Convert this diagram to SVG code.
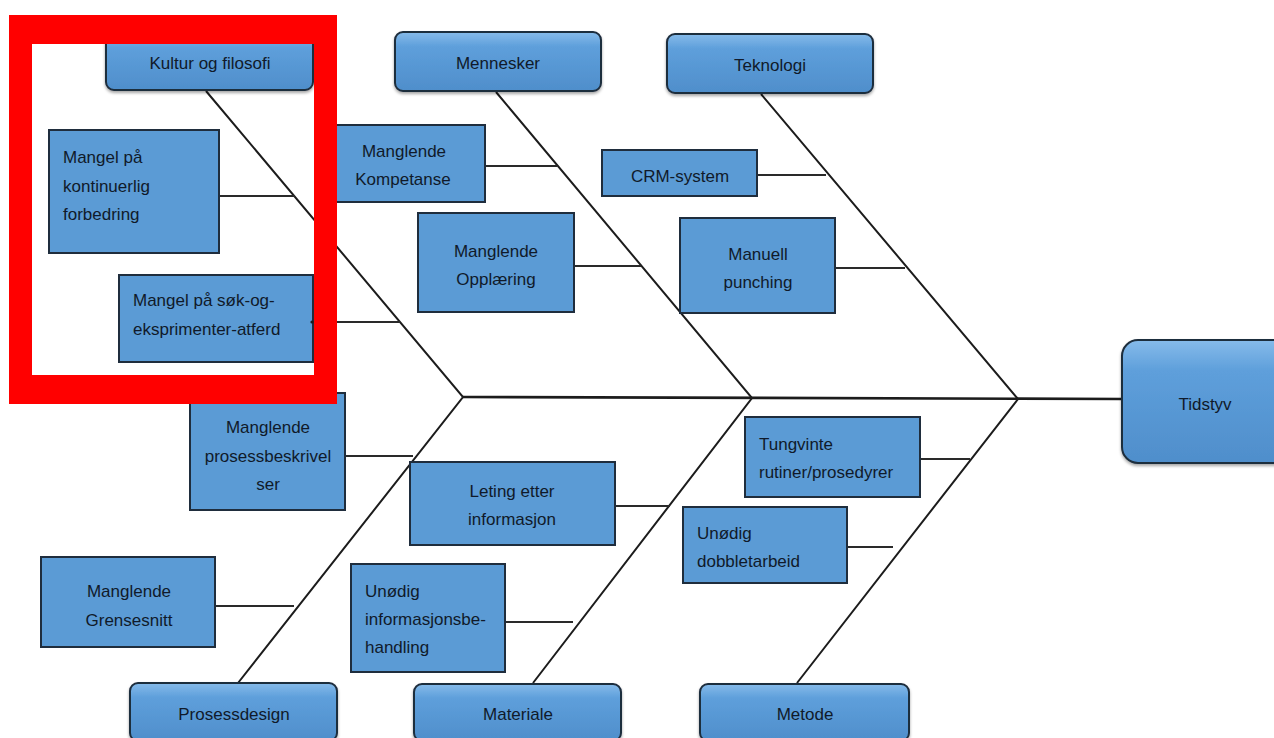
<svg xmlns="http://www.w3.org/2000/svg" width="1274" height="738" viewBox="0 0 1274 738">
  <style>
    .cause { fill: #5b9bd5; stroke: #1f2d3d; stroke-width: 2; }
    .cat { fill: url(#catFill); stroke: #1f2d3d; stroke-width: 2; filter: url(#shadow); }
    .bone { stroke: #1c1c1c; stroke-width: 2; fill: none; }
    .twig { stroke: #2a2a2a; stroke-width: 2; fill: none; }
    .spine { stroke: #1c1c1c; stroke-width: 2.6; fill: none; }
    .lbl { font-family: "Liberation Sans", Arial, sans-serif; font-size: 17px; fill: #101a2a; }
    .mid { text-anchor: middle; }
    .dot { fill: #1c1c1c; }
  </style>
  <defs>
    <linearGradient id="catFill" x1="0" y1="0" x2="0" y2="1">
      <stop offset="0" stop-color="#86bbea"/>
      <stop offset="0.25" stop-color="#5e9fdb"/>
      <stop offset="1" stop-color="#4f8ecb"/>
    </linearGradient>
    <filter id="shadow" x="-10%" y="-10%" width="120%" height="130%">
      <feDropShadow dx="0" dy="2" stdDeviation="1.5" flood-color="#000" flood-opacity="0.35"/>
    </filter>
  </defs>

  <rect width="1274" height="738" fill="#ffffff"/>

  <!-- skeleton: spine, category bones and cause twigs -->
  <g id="connectors">
    <line class="spine" x1="463" y1="397" x2="1124" y2="399"/>
    <polyline class="bone" points="206,91 463,397 238,683"/>
    <polyline class="bone" points="496,92 752,398 533,683"/>
    <polyline class="bone" points="761,94 1018,399 797,683"/>

    <line class="twig" x1="219" y1="196" x2="295" y2="196"/>
    <line class="twig" x1="312" y1="322" x2="400" y2="322"/>
    <line class="twig" x1="485" y1="166" x2="557" y2="166"/>
    <line class="twig" x1="574" y1="266" x2="641" y2="266"/>
    <line class="twig" x1="757" y1="175" x2="826" y2="175"/>
    <line class="twig" x1="835" y1="268" x2="905" y2="268"/>
    <line class="twig" x1="345" y1="456" x2="413" y2="456"/>
    <line class="twig" x1="615" y1="506" x2="670" y2="506"/>
    <line class="twig" x1="215" y1="606" x2="294" y2="606"/>
    <line class="twig" x1="505" y1="622" x2="573" y2="622"/>
    <line class="twig" x1="920" y1="459" x2="970" y2="459"/>
    <line class="twig" x1="847" y1="547" x2="893" y2="547"/>
  </g>

  <!-- effect -->
  <g id="tidstyv">
    <rect class="cat" x="1122" y="340" width="170" height="123" rx="16"/>
    <text class="lbl mid" x="1205" y="410">Tidstyv</text>
  </g>

  <!-- categories -->
  <g id="kultur-og-filosofi">
    <rect class="cat" x="106" y="34" width="207" height="56" rx="8"/>
    <text class="lbl mid" x="210" y="69">Kultur og filosofi</text>
  </g>
  <g id="mennesker">
    <rect class="cat" x="395" y="32" width="206" height="59" rx="8"/>
    <text class="lbl mid" x="498" y="69">Mennesker</text>
  </g>
  <g id="teknologi">
    <rect class="cat" x="667" y="34" width="206" height="59" rx="8"/>
    <text class="lbl mid" x="770" y="71">Teknologi</text>
  </g>
  <g id="prosessdesign">
    <rect class="cat" x="130" y="683" width="207" height="58" rx="8"/>
    <text class="lbl mid" x="234" y="720">Prosessdesign</text>
  </g>
  <g id="materiale">
    <rect class="cat" x="414" y="684" width="207" height="57" rx="8"/>
    <text class="lbl mid" x="518" y="720">Materiale</text>
  </g>
  <g id="metode">
    <rect class="cat" x="700" y="684" width="209" height="57" rx="8"/>
    <text class="lbl mid" x="805" y="720">Metode</text>
  </g>

  <!-- causes -->
  <g id="mangel-kontinuerlig-forbedring">
    <rect class="cause" x="49" y="130" width="170" height="123"/>
    <text class="lbl" x="63" y="163">Mangel på</text>
    <text class="lbl" x="63" y="192">kontinuerlig</text>
    <text class="lbl" x="63" y="220">forbedring</text>
  </g>
  <g id="mangel-sok-og-eksprimenter">
    <rect class="cause" x="119" y="275" width="194" height="87"/>
    <text class="lbl" x="133" y="306">Mangel på søk-og-</text>
    <text class="lbl" x="133" y="335">eksprimenter-atferd</text>
    <circle class="dot" cx="312" cy="322" r="1.6"/>
  </g>
  <g id="manglende-kompetanse">
    <rect class="cause" x="320" y="125" width="165" height="77"/>
    <text class="lbl mid" x="404" y="157">Manglende</text>
    <text class="lbl mid" x="403" y="185">Kompetanse</text>
  </g>
  <g id="manglende-opplaering">
    <rect class="cause" x="418" y="213" width="156" height="99"/>
    <text class="lbl mid" x="496" y="257">Manglende</text>
    <text class="lbl mid" x="496" y="285">Opplæring</text>
  </g>
  <g id="crm-system">
    <rect class="cause" x="602" y="150" width="155" height="46"/>
    <text class="lbl mid" x="680" y="182">CRM-system</text>
  </g>
  <g id="manuell-punching">
    <rect class="cause" x="680" y="218" width="155" height="95"/>
    <text class="lbl mid" x="758" y="260">Manuell</text>
    <text class="lbl mid" x="758" y="288">punching</text>
  </g>
  <g id="manglende-prosessbeskrivelser">
    <rect class="cause" x="190" y="393" width="155" height="117"/>
    <text class="lbl mid" x="268" y="433">Manglende</text>
    <text class="lbl mid" x="268" y="462">prosessbeskrivel</text>
    <text class="lbl mid" x="268" y="490">ser</text>
  </g>
  <g id="leting-etter-informasjon">
    <rect class="cause" x="410" y="462" width="205" height="83"/>
    <text class="lbl mid" x="512" y="497">Leting etter</text>
    <text class="lbl mid" x="512" y="525">informasjon</text>
  </g>
  <g id="manglende-grensesnitt">
    <rect class="cause" x="41" y="557" width="174" height="90"/>
    <text class="lbl mid" x="129" y="597">Manglende</text>
    <text class="lbl mid" x="129" y="626">Grensesnitt</text>
  </g>
  <g id="unodig-informasjonsbehandling">
    <rect class="cause" x="351" y="564" width="154" height="108"/>
    <text class="lbl" x="365" y="597">Unødig</text>
    <text class="lbl" x="365" y="625">informasjonsbe-</text>
    <text class="lbl" x="365" y="653">handling</text>
  </g>
  <g id="tungvinte-rutiner">
    <rect class="cause" x="745" y="417" width="175" height="80"/>
    <text class="lbl" x="759" y="450">Tungvinte</text>
    <text class="lbl" x="759" y="478">rutiner/prosedyrer</text>
  </g>
  <g id="unodig-dobbeltarbeid">
    <rect class="cause" x="683" y="507" width="164" height="76"/>
    <text class="lbl" x="697" y="539">Unødig</text>
    <text class="lbl" x="697" y="567">dobbletarbeid</text>
  </g>

  <!-- red highlight frame around the culture branch -->
  <g id="highlight">
    <path fill="#ff0000" fill-rule="evenodd" d="M9,15 H337 V404 H9 Z M32,44 V375 H314 V44 Z"/>
  </g>
</svg>
